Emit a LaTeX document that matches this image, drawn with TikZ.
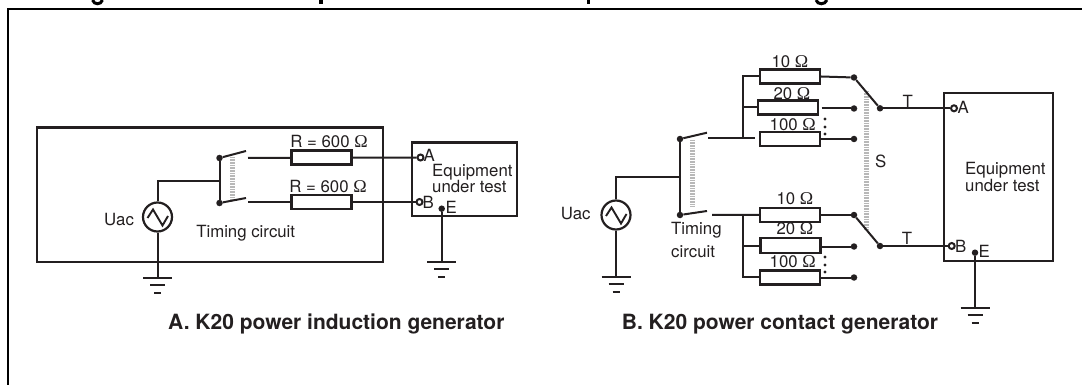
\documentclass[tikz,border=0pt]{standalone}
\usepackage{fontspec}
\setmainfont{TeX Gyre Heros}
\newfontfamily\omegafont{Liberation Serif}
\newcommand{\ohm}{{\omegafont\fontsize{18pt}{13pt}\selectfont Ω}}
\definecolor{ink}{HTML}{231F20}
\tikzset{
  wire/.style={draw=ink,line width=2pt},
  res/.style={draw=ink,line width=2.4pt,fill=white,minimum height=14pt,minimum width=60pt,inner sep=0pt},
  eut/.style={draw=ink,line width=2.2pt,inner sep=0pt},
  lbl/.style={text=ink,font=\fontsize{16.8pt}{13pt}\selectfont,inner sep=0pt},
  captext/.style={text=ink,font=\fontsize{21pt}{24pt}\selectfont\bfseries,inner sep=0pt,anchor=base west},
  src/.style={circle,draw=ink,line width=2.2pt,minimum size=29pt,inner sep=0pt},
  dot/.style={circle,fill=ink,minimum size=6.5pt,inner sep=0pt},
  ring/.style={circle,draw=ink,line width=2pt,fill=white,minimum size=6pt,inner sep=0pt},
  gang/.style={draw=black!28,line width=5pt,dash pattern=on 0.8pt off 0.8pt},
  gnd1/.style={draw=ink,line width=2pt},
}
\newcommand{\ground}[2]{%
  \draw[gnd1] (#1-14.5,#2) -- (#1+14.5,#2);
  \draw[gnd1] (#1-7.5,#2+7) -- (#1+7.5,#2+7);
  \draw[gnd1] (#1-3.5,#2+15) -- (#1+3.5,#2+15);
}
\newcommand{\sine}[2]{%
  \draw[draw=ink,line width=1.9pt] (#1-10,#2+1) -- (#1-4.5,#2-7.5) -- (#1+5,#2+8.5) -- (#1+10.5,#2-1);
}
\begin{document}
\begin{tikzpicture}[x=1pt,y=-1pt]
\useasboundingbox (0,0) rectangle (1082,385);
% clipped heading above the frame
\draw[black,line width=3pt] (92.5,0) .. controls (94,5) and (101,5) .. (102.5,0);
\fill[black] (319,0) rectangle (322.5,4);
\fill[black] (586.5,0) rectangle (590,4);
\draw[black,line width=3pt] (816,0) .. controls (817.5,5) and (825,5) .. (827,0);
% outer frame (open)
\draw[black,line width=2.4pt] (8,385) -- (8,9) -- (1082,9);

%%%%% A
\draw[draw=ink,line width=2.4pt] (37,127.5) rectangle (383,262);
\node[src] (ua) at (157.5,217) {};
\sine{157.5}{217}
\coordinate (ga) at (157.5,278);
\ground{157.5}{278}
\draw[wire] (ua) -- (ga);
\node[dot] (ja1) at (219.5,158) {};
\node[dot] (ja2) at (219.5,203) {};
\coordinate (ma) at (219.5,181);
\draw[wire] (ua.north) |- (ma);
\draw[wire] (ja1) -- (ja2);
\draw[gang] (232.5,157) -- (232.5,199);
\coordinate (ba1) at (246,151);
\coordinate (ba2) at (246,198);
\draw[wire] (ja1) -- (ba1);
\draw[wire] (ja2) -- (ba2);
\coordinate (ca1) at (248,158);
\coordinate (ca2) at (248,202);
\node[res] (ra1) at (321.5,157.7) {};
\node[res] (ra2) at (321.5,202) {};
\node[eut,minimum width=105pt,minimum height=73.5pt] (ea) at (464.8,179.3) {};
\node[ring] (aa) at (420.5,157.5) {};
\node[ring] (ab) at (419.5,202) {};
\node[dot] (ae) at (441.7,208.7) {};
\draw[wire] (ca1) -- (ra1);
\draw[wire] (ca2) -- (ra2);
\draw[wire] (ra1) -- (aa);
\draw[wire] (ra2) -- (ab);
\coordinate (gae) at (441.7,262);
\ground{441.7}{262}
\draw[wire] (ae) -- (gae);
\node[lbl] (la1) at (329,141.5) {R = 600 \ohm};
\node[lbl] (la2) at (328,186.5) {R = 600 \ohm};
\node[lbl] (la3) at (119,220) {Uac};
\node[lbl] (la4) at (245.7,233) {Timing circuit};
\node[lbl,anchor=west] (la5) at (423.5,155) {A};
\node[lbl,anchor=west] (la6) at (422.5,202) {B};
\node[lbl,anchor=west] (la7) at (445.5,207.5) {E};
\node[lbl,anchor=west,align=left] (la8) at (432,178.5) {Equipment\\under test};
\node[captext] (capa) at (168,329.5) {A. K20 power induction generator};

%%%%% B
\node[src] (ub) at (616,215) {};
\sine{616}{215}
\coordinate (gb) at (616,277);
\ground{616}{277}
\draw[wire] (ub) -- (gb);
\node[dot] (jb1) at (680,139) {};
\node[dot] (jb2) at (680,215) {};
\coordinate (mb) at (680,177);
\draw[wire] (ub.north) |- (mb);
\draw[wire] (jb1) -- (jb2);
\draw[gang] (692.7,140) -- (692.7,206);
\coordinate (bb1) at (707,132.7);
\coordinate (bb2) at (707,211);
\draw[wire] (jb1) -- (bb1);
\draw[wire] (jb2) -- (bb2);
\coordinate (cb1) at (708,138.5);
\coordinate (eb1) at (755,138.5);
\coordinate (cb2) at (712,215);
\draw[wire] (cb1) -- (eb1);
\node[res] (r1) at (790,76.5) {};
\node[res] (r2) at (788.2,107.4) {};
\node[res] (r3) at (790,139.2) {};
\node[res] (r4) at (790,214.8) {};
\node[res,minimum height=15pt] (r5) at (790.3,245.5) {};
\node[res] (r6) at (790,277.3) {};
\coordinate (bus1) at (743.3,138.5);
\coordinate (bus2) at (743.3,215);
\draw[wire] (bus1) |- (r1.west);
\draw[wire] (bus1) |- (r2.west);
\draw[wire] (cb2) -- (r4.west);
\draw[wire] (bus2) |- (r5.west);
\draw[wire] (bus2) |- (r6.west);
\node[dot] (k1) at (854,77.5) {};
\node[dot] (k2) at (854,108.5) {};
\node[dot] (k3) at (854,139) {};
\node[dot] (k4) at (854,215) {};
\node[dot] (k5) at (854,246.5) {};
\node[dot] (k6) at (854,277.5) {};
\coordinate (k2s) at (821.5,108.5);
\draw[wire] (r1.east) -- (k1);
\draw[wire] (k2s) -- (k2);
\draw[wire] (r3.east |- k3) -- (k3);
\draw[wire] (r4.east |- k4) -- (k4);
\draw[wire] (r5.east |- k5) -- (k5);
\draw[wire] (r6.east |- k6) -- (k6);
\foreach \yy in {119,127,134,257,265,272}{\fill[ink] (825,\yy) circle (1.7pt);}
\draw[gang] (866.5,91) -- (866.5,230);
\node[dot] (pa) at (880,108.3) {};
\node[dot] (pb) at (880,246) {};
\draw[wire] (k1) -- (pa);
\draw[wire] (k4) -- (pb);
\node[eut,minimum width=108.7pt,minimum height=168pt] (eb) at (998.4,176.7) {};
\node[ring] (ba) at (954,108.3) {};
\node[ring] (bb) at (951.7,246) {};
\node[dot] (be) at (975,252.7) {};
\draw[wire] (pa) -- (ba);
\draw[wire] (pb) -- (bb);
\coordinate (gbe) at (975,307.7);
\ground{975}{307.7}
\draw[wire] (be) -- (gbe);
\node[lbl] (lb1) at (790,61.7) {10 \ohm};
\node[lbl] (lb2) at (792,93.3) {20 \ohm};
\node[lbl] (lb3) at (792.7,124.3) {100 \ohm};
\node[lbl] (lb4) at (795,198.3) {10 \ohm};
\node[lbl] (lb5) at (795,229) {20 \ohm};
\node[lbl] (lb6) at (792.7,262) {100 \ohm};
\node[lbl] (lb7) at (575.7,214) {Uac};
\node[lbl,anchor=west,align=left] (lb8) at (671,240) {Timing\\[6pt]circuit};
\node[lbl] (lb9) at (880.7,161.7) {S};
\node[lbl] (lb10) at (907.7,101) {T};
\node[lbl] (lb11) at (907,238) {T};
\node[lbl,anchor=west] (lb12) at (957.5,107.5) {A};
\node[lbl,anchor=west] (lb13) at (955,246) {B};
\node[lbl,anchor=west] (lb14) at (978.5,251) {E};
\node[lbl,anchor=west,align=left] (lb15) at (965,177) {Equipment\\under test};
\node[captext] (capb) at (621.7,329.5) {B. K20 power contact generator};
\end{tikzpicture}
\end{document}
